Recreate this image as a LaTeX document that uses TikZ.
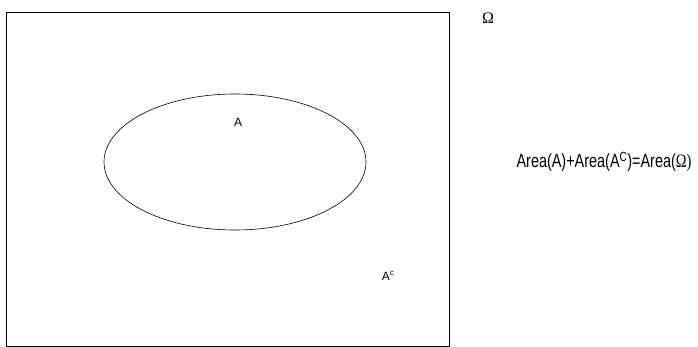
\documentclass[tikz,border=0pt]{standalone}
\usepackage{fontspec}
\usetikzlibrary{shapes.geometric}
\setmainfont{Liberation Sans}
\newfontfamily\seriffont{Liberation Serif}
\begin{document}
\begin{tikzpicture}[x=1pt,y=-1pt,
  lbl/.style={inner sep=0pt, font=\fontsize{12}{13}\selectfont}]
\useasboundingbox (0,0) rectangle (698,347);
\draw[line width=1pt] (6,13) rectangle (449,346) coordinate (corner);
\node[draw, line width=0.6pt, ellipse, minimum width=262, minimum height=136, inner sep=0pt] (ellA) at (235,162) {};
\node[lbl] (lA) at (238,122) {A};
\node[lbl] (lAc) at (388,276) {A\textsuperscript{c}};
\node[inner sep=0pt, font=\seriffont\fontsize{16}{17}\selectfont] (om) at (488,18) {Ω};
\node[inner sep=0pt] (eq) at (604,162) {\scalebox{0.76}[1]{\fontsize{19}{21}\selectfont Area(A)+Area(A\textsuperscript{C})=Area(\seriffont Ω)}};
\end{tikzpicture}
\end{document}
